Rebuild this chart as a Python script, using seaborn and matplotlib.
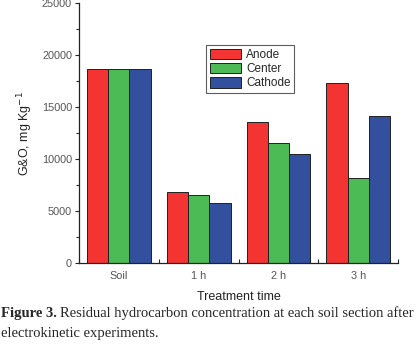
import pandas as pd
import seaborn as sns
from matplotlib import pyplot as plt
from matplotlib.ticker import MultipleLocator, FixedLocator

times = ["Soil", "1 h", "2 h", "3 h"]
sections = ["Anode", "Center", "Cathode"]
anode = [18650, 6800, 13550, 17350]
center = [18650, 6550, 11500, 8200]
cathode = [18650, 5800, 10500, 14150]
colors = ["#F43333", "#4CBB55", "#33509F"]

df = pd.DataFrame({
    "time": times * 3,
    "section": ["Anode"] * 4 + ["Center"] * 4 + ["Cathode"] * 4,
    "value": anode + center + cathode,
})

sns.set_style("ticks")
plt.rcParams["font.family"] = ["Liberation Sans", "DejaVu Sans"]

fig = plt.figure(figsize=(4.2, 3.5), dpi=100)
ax = fig.add_axes([0.188, 0.249, 0.76, 0.742])
sns.barplot(data=df, x="time", y="value", hue="section", order=times, hue_order=sections,
            palette=colors, width=0.8, edgecolor="#202020", linewidth=0.7, saturation=1,
            errorbar=None, ax=ax)

ax.set_ylim(0, 25000)
ax.set_xlim(-0.5, 3.5)
ax.yaxis.set_major_locator(MultipleLocator(5000))
ax.yaxis.set_minor_locator(MultipleLocator(2500))
ax.xaxis.set_minor_locator(FixedLocator([-0.5, 0.5, 1.5, 2.5, 3.5]))
ax.tick_params(axis="both", which="major", labelsize=7.8, colors="#222222", labelcolor="#555555", length=3, width=0.8)
ax.tick_params(axis="x", which="major", direction="in", length=3, pad=6)
ax.tick_params(axis="x", which="minor", direction="in", length=3, width=0.8)
ax.tick_params(axis="y", which="major", pad=2)
ax.tick_params(axis="y", which="minor", length=2, width=0.8)
for s in ["top", "right"]:
    ax.spines[s].set_visible(False)
for s in ["left", "bottom"]:
    ax.spines[s].set_linewidth(0.9)
    ax.spines[s].set_color("#222222")

ax.set_xlabel("Treatment time", fontsize=9, color="#222222", labelpad=7)
ax.set_ylabel("G&O, mg Kg$^{-1}$", fontsize=9, color="#222222", labelpad=5)

leg = ax.legend(loc="upper left", bbox_to_anchor=(0.398, 0.838), fontsize=8.5, frameon=True,
                fancybox=False, edgecolor="#333333", handlelength=2.7, handleheight=1.0,
                labelspacing=0.15, borderpad=0.3, handletextpad=0.4, borderaxespad=0)
leg.get_frame().set_linewidth(0.8)

fig.canvas.draw()
bold = fig.text(0.002, 0.093, "Figure 3.", fontsize=10.5, fontweight="bold", family="Liberation Serif")
bb = bold.get_window_extent(fig.canvas.get_renderer())
fig.text(bb.x1 / fig.bbox.width + 0.008, 0.093,
         "Residual hydrocarbon concentration at each soil section after",
         fontsize=10.5, family="Liberation Serif")
fig.text(0.002, 0.038, "electrokinetic experiments.", fontsize=10.5, family="Liberation Serif")

plt.savefig("out.png", dpi=100)
